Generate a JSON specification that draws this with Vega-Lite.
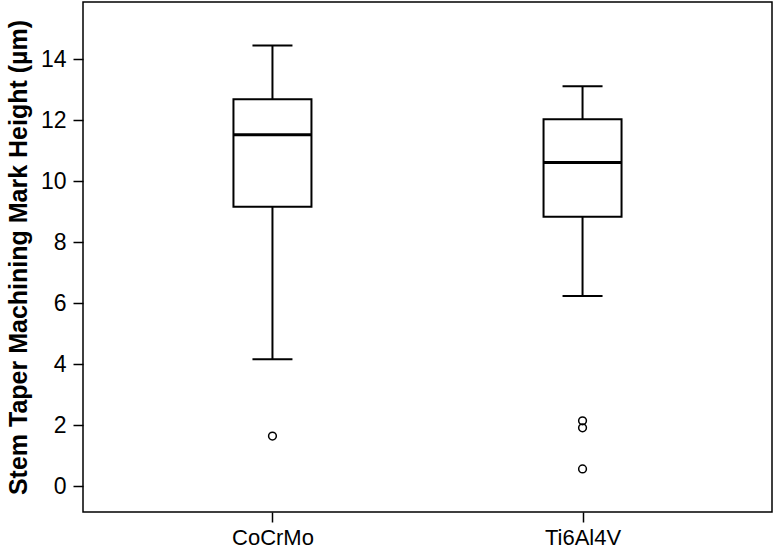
{
  "$schema": "https://vega.github.io/schema/vega-lite/v6.json",
  "autosize": {"type": "none"},
  "width": 689,
  "height": 510,
  "padding": {"left": 83, "top": 2, "right": 2, "bottom": 39},
  "background": "white",
  "config": {
    "view": {"stroke": "black", "strokeWidth": 1.5},
    "font": "Liberation Sans",
    "axis": {"grid": false, "domain": false, "tickColor": "black", "tickWidth": 1.5, "tickSize": 10, "labelColor": "black", "titleColor": "black", "labelFont": "Liberation Sans", "titleFont": "Liberation Sans"}
  },
  "datasets": {
    "stats": [
      {"group": "CoCrMo", "lower": 4.16, "q1": 9.16, "median": 11.52, "q3": 12.68, "upper": 14.44},
      {"group": "Ti6Al4V", "lower": 6.23, "q1": 8.83, "median": 10.61, "q3": 12.03, "upper": 13.11}
    ],
    "outliers": [
      {"group": "CoCrMo", "value": 1.64},
      {"group": "Ti6Al4V", "value": 2.14},
      {"group": "Ti6Al4V", "value": 1.91},
      {"group": "Ti6Al4V", "value": 0.56}
    ]
  },
  "encoding": {
    "x": {
      "field": "group", "type": "nominal",
      "scale": {"type": "point", "domain": ["CoCrMo", "Ti6Al4V"], "padding": 0.611},
      "axis": {"title": null, "labelAngle": 0, "labelFontSize": 22, "labelPadding": 5}
    }
  },
  "layer": [
    {
      "data": {"name": "stats"},
      "mark": {"type": "rule", "color": "black", "strokeWidth": 2},
      "encoding": {
        "y": {"field": "lower", "type": "quantitative", "scale": {"domain": [-0.85, 15.87], "nice": false, "zero": false},
          "axis": {"title": "Stem Taper Machining Mark Height (µm)", "titleFontSize": 25, "titleFontWeight": "bold", "titlePadding": 9, "labelFontSize": 23, "labelPadding": 7, "values": [0, 2, 4, 6, 8, 10, 12, 14]}},
        "y2": {"field": "q1"}
      }
    },
    {
      "data": {"name": "stats"},
      "mark": {"type": "rule", "color": "black", "strokeWidth": 2},
      "encoding": {"y": {"field": "q3", "type": "quantitative"}, "y2": {"field": "upper"}}
    },
    {
      "data": {"name": "stats"},
      "mark": {"type": "bar", "size": 78, "fill": "white", "stroke": "black", "strokeWidth": 2},
      "encoding": {"y": {"field": "q1", "type": "quantitative"}, "y2": {"field": "q3"}}
    },
    {
      "data": {"name": "stats"},
      "mark": {"type": "tick", "size": 78, "thickness": 3, "color": "black", "opacity": 1},
      "encoding": {"y": {"field": "median", "type": "quantitative"}}
    },
    {
      "data": {"name": "stats"},
      "mark": {"type": "tick", "size": 40, "thickness": 2, "color": "black", "opacity": 1},
      "encoding": {"y": {"field": "upper", "type": "quantitative"}}
    },
    {
      "data": {"name": "stats"},
      "mark": {"type": "tick", "size": 40, "thickness": 2, "color": "black", "opacity": 1},
      "encoding": {"y": {"field": "lower", "type": "quantitative"}}
    },
    {
      "data": {"name": "outliers"},
      "mark": {"type": "point", "shape": "circle", "size": 60, "filled": false, "stroke": "black", "strokeWidth": 1.5, "opacity": 1},
      "encoding": {"y": {"field": "value", "type": "quantitative"}}
    }
  ]
}
